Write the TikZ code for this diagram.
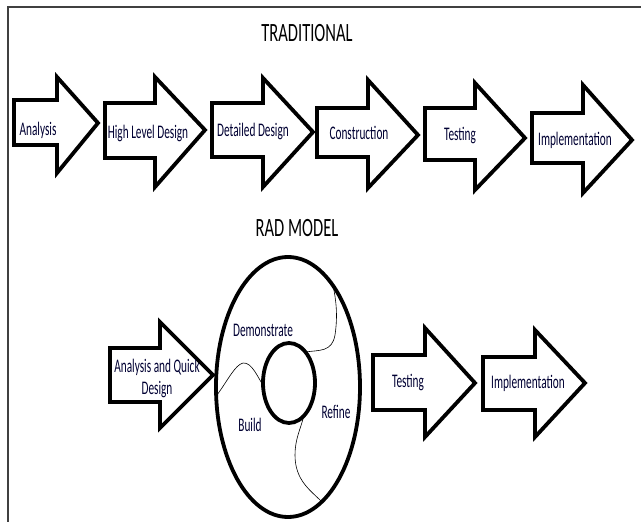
\documentclass[tikz,border=0pt]{standalone}
\usepackage{fontspec}
\usepackage{graphicx}
\setmainfont{Carlito}
\newcommand\blkarrow[8]{\draw[arr] (#1,#2) -- (#4,#2) -- (#4,#5) -- (#7,#8) -- (#4,#6) -- (#4,#3) -- (#1,#3) -- cycle;}
\newcommand\tallt[1]{\scalebox{1}[1.7]{#1}}
\begin{document}
\begin{tikzpicture}[x=1pt,y=-1pt,
  arr/.style={draw=black,line width=3.8pt,line join=miter,fill=white},
  lbl/.style={inner sep=0pt,font=\fontsize{11.3}{13}\selectfont,text=black!80!blue},
  ttl/.style={inner sep=0pt,font=\fontsize{16.5}{18}\selectfont},
  ring/.style={draw=black,line width=3.8pt},
  seam/.style={draw=black,line width=0.6pt}]
\useasboundingbox (0,0) rectangle (641,522);
\fill[white] (0,0) rectangle (641,522);
\draw[line width=1.4pt,black!75] (8,522) -- (8,7) -- (641,7);
% titles
\node[ttl] (trad) at (307,33) {\scalebox{1}[1.6]{TRADITIONAL}};
\node[ttl] (rad) at (297,228) {\scalebox{1}[1.6]{RAD MODEL}};
% traditional arrows
\blkarrow{14}{100}{145}{57}{77}{173}{98}{123}
\blkarrow{105}{103}{158}{155}{77}{187}{205}{130}
\blkarrow{212}{103}{157}{263}{78}{187}{313}{132}
\blkarrow{317}{108}{157}{368}{80}{188}{418}{135}
\blkarrow{425}{108}{160}{475}{83}{190}{525}{138}
\blkarrow{532}{113}{163}{583}{85}{193}{632}{140}
\node[lbl] (t1) at (38,130) {\tallt{Analysis}};
\node[lbl] (t2) at (148,133) {\tallt{High Level Design}};
\node[lbl] (t3) at (253,131) {\tallt{Detailed Design}};
\node[lbl] (t4) at (359,133) {\tallt{Construction}};
\node[lbl] (t5) at (460,136) {\tallt{Testing}};
\node[lbl] (t6) at (575,140) {\tallt{Implementation}};
% RAD
\blkarrow{110}{348}{402}{160}{322}{428}{213}{375}
\draw[ring] (288,387) ellipse [x radius=72,y radius=130];
\draw[ring] (289,383) ellipse [x radius=26,y radius=40];
\draw[seam] (305,352) .. controls (320,350) and (332,352) .. (335,335) .. controls (338,315) and (336,300) .. (333,285);
\draw[seam] (217,395) .. controls (228,380) and (235,365) .. (243,363) .. controls (252,362) and (258,378) .. (263,385);
\draw[seam] (303,419) .. controls (300,430) and (295,440) .. (295,455) .. controls (295,480) and (310,490) .. (321,501);
\blkarrow{373}{355}{410}{425}{328}{437}{475}{383}
\blkarrow{483}{357}{410}{535}{330}{437}{585}{383}
\node[lbl] (r1) at (157,379) {\tallt{\begin{tabular}{@{}c@{}}Analysis and Quick\\Design\end{tabular}}};
\node[lbl] (r2) at (263,330) {\tallt{Demonstrate}};
\node[lbl] (r3) at (250,425) {\tallt{Build}};
\node[lbl] (r4) at (336,412) {\tallt{Refine}};
\node[lbl] (r5) at (408,383) {\tallt{Testing}};
\node[lbl] (r6) at (528,383) {\tallt{Implementation}};
\end{tikzpicture}
\end{document}
